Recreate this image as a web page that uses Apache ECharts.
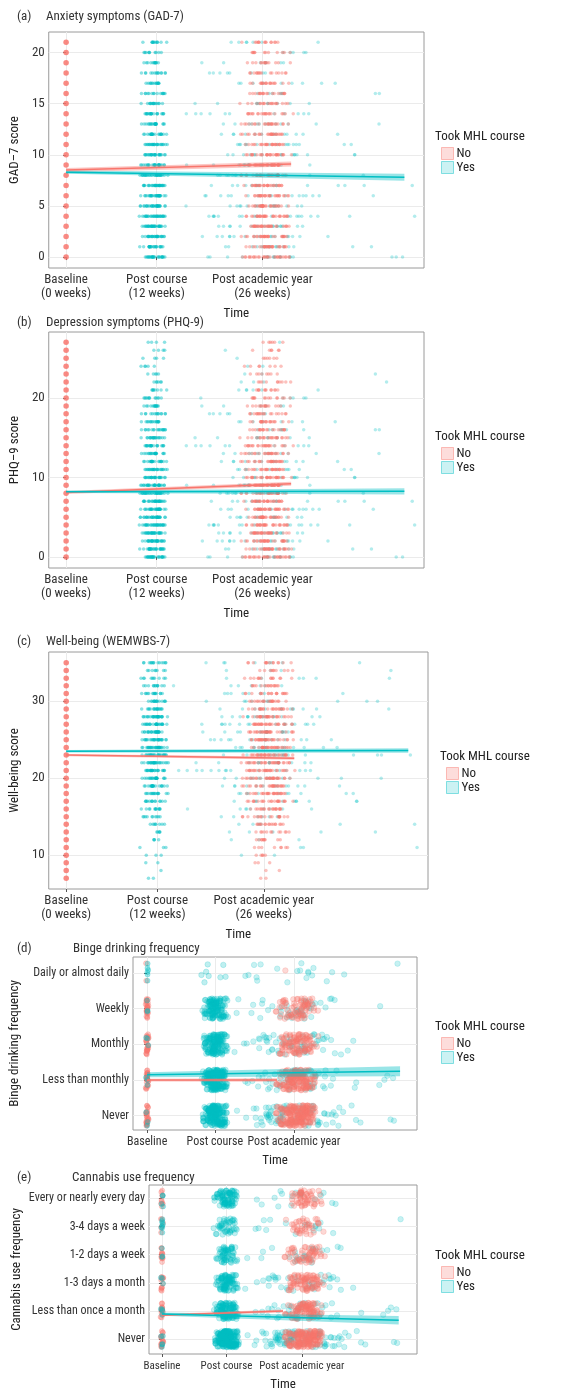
<!DOCTYPE html>
<html><head><meta charset="utf-8">
<script src="https://cdn.jsdelivr.net/npm/echarts@6/dist/echarts.min.js"></script>
<style>html,body{margin:0;padding:0;background:#fff}#c{width:582px;height:1392px}</style>
</head><body><div id="c"></div>
<script>
// ---- data ----
const timeTicks = [0, 12, 26];
const timeLabelsLong = ['Baseline\n(0 weeks)', 'Post course\n(12 weeks)', 'Post academic year\n(26 weeks)'];
const timeLabelsShort = ['Baseline', 'Post course', 'Post academic year'];
const bingeCats = ['Never', 'Less than monthly', 'Monthly', 'Weekly', 'Daily or almost daily'];
const cannabisCats = ['Never', 'Less than once a month', '1-3 days a month', '1-2 days a week', '3-4 days a week', 'Every or nearly every day'];

// jitter offsets (hand-typed, in [-1,1])
const JX = [-0.92,0.35,-0.18,0.71,-0.55,0.08,0.96,-0.33,0.52,-0.77,0.21,-0.04,0.63,-0.88,0.44,-0.26,0.83,-0.61,0.13,0.39,-0.45,0.9,-0.12,0.58,-0.7,0.27,-0.96,0.02,0.75,-0.38,0.49,-0.84,0.17,-0.22,0.67,-0.5,0.31,0.86,-0.67,0.05,-0.29];
const JY = [0.41,-0.83,0.12,0.67,-0.35,0.91,-0.58,0.24,-0.09,0.76,-0.71,0.33,-0.46,0.55,-0.18,0.88,-0.94,0.02,0.62,-0.27,0.47,-0.64,0.19,-0.52,0.81,-0.13,0.36,-0.77,0.69,-0.4,0.08,0.95,-0.22,0.5,-0.87,0.28,-0.6];

// GAD-7 levels 0..21 : counts per level
const gadLevels = [0,1,2,3,4,5,6,7,8,9,10,11,12,13,14,15,16,17,18,19,20,21];
const gadPostCourseYes = [25,22,28,30,30,30,28,30,28,25,25,25,22,22,20,16,15,14,14,12,10,12];
const gadPostYearNo    = [30,28,30,32,30,30,28,28,30,28,28,26,25,24,22,20,20,18,16,14,12,14];
const gadPostYearYes   = [14,14,14,14,14,14,14,12,12,12,12,12,10,10,8,8,6,6,6,5,4,5];
const gadScatterYes    = [4,3,4,4,5,4,3,4,4,3,4,4,3,3,3,2,2,3,2,2,1,2];
const gadLineNo  = [[0,8.5],[29.8,9.1]];
const gadLineYes = [[0,8.3],[44.8,7.8]];
const gadBandNo  = [0.2,0.25];
const gadBandYes = [0.15,0.35];

// PHQ-9 levels 0..27
const phqLevels = [0,1,2,3,4,5,6,7,8,9,10,11,12,13,14,15,16,17,18,19,20,21,22,23,24,25,26,27];
const phqPostCourseYes = [28,28,30,30,30,30,28,28,28,28,25,25,22,22,20,20,18,16,14,14,12,8,6,5,5,4,4,4];
const phqPostYearNo    = [30,30,30,30,30,30,30,28,28,28,28,26,26,24,24,22,20,20,18,16,14,12,10,8,7,6,6,6];
const phqPostYearYes   = [14,14,14,14,12,12,12,12,12,12,10,10,10,10,8,8,8,6,6,5,4,4,3,2,2,1,1,1];
const phqScatterYes    = [3,3,4,4,4,3,4,4,3,3,3,3,3,3,3,2,2,2,2,1,2,2,1,1,0,0,0,0];
const phqLineNo  = [[0,8.1],[29.8,9.2]];
const phqLineYes = [[0,8.2],[44.8,8.25]];
const phqBandNo  = [0.2,0.25];
const phqBandYes = [0.15,0.4];

// WEMWBS levels 7..35
const wemLevels = [7,8,9,10,11,12,13,14,15,16,17,18,19,20,21,22,23,24,25,26,27,28,29,30,31,32,33,34,35];
const wemPostCourseYes = [2,1,2,3,3,4,5,8,10,12,14,16,20,22,24,26,26,28,26,26,26,28,18,16,14,12,10,8,14];
const wemPostYearNo    = [2,2,3,5,8,10,12,16,18,20,22,26,26,28,28,30,30,30,30,30,28,28,24,20,18,16,14,10,14];
const wemPostYearYes   = [0,0,0,1,2,2,3,4,5,6,7,8,10,10,12,12,12,12,12,12,12,12,10,8,6,5,4,3,6];
const wemScatterYes    = [0,0,0,1,1,1,2,2,2,3,3,3,3,4,4,4,4,4,4,4,4,4,3,3,2,2,2,1,2];
const wemLineNo  = [[0,23.0],[30,22.6]];
const wemLineYes = [[0,23.5],[45,23.6]];
const wemBandNo  = [0.15,0.2];
const wemBandYes = [0.15,0.3];

// Binge drinking levels 1..5
const bingeLevels = [1,2,3,4,5];
const bingeBaseNo       = [25,25,25,25,2];
const bingeBaseYes      = [3,3,3,3,6];
const bingePostCourseYes= [200,200,160,140,8];
const bingePostYearNo   = [200,170,110,80,1];
const bingePostYearYes  = [70,55,50,35,16];
const bingeScatterYes   = [18,10,9,7,4];
const bingeLineNo  = [[0,2.0],[23,2.0]];
const bingeLineYes = [[0,2.15],[44.8,2.25]];
const bingeBandNo  = [0.04,0.05];
const bingeBandYes = [0.07,0.14];

// Cannabis levels 1..6
const canLevels = [1,2,3,4,5,6];
const canBaseNo       = [18,15,12,12,6,10];
const canBaseYes      = [5,4,3,3,8,4];
const canPostCourseYes= [260,120,100,60,45,90];
const canPostYearNo   = [170,100,85,60,40,55];
const canPostYearYes  = [90,35,30,20,14,14];
const canScatterYes   = [18,7,7,4,2,3];
const canLineNo  = [[0,1.85],[22.5,2.0]];
const canLineYes = [[0,1.89],[44,1.67]];
const canBandNo  = [0.04,0.05];
const canBandYes = [0.06,0.15];

// ---- building ----
const RED = '#F8766D', CYAN = '#00BFC4';
const FONT = '"Liberation Sans Narrow","Roboto Condensed",Roboto,sans-serif';

function jitter(levels, counts, center, spread, ySpread, seed) {
  const out = [];
  levels.forEach((L, li) => {
    for (let k = 0; k < counts[li]; k++) {
      const jx = 0.6 * JX[(k * 7 + li * 3 + seed) % JX.length] + 0.4 * JY[(k * 11 + li * 17 + seed) % JY.length];
      const x = center + spread * jx / 0.8;
      const y = L + ySpread * JY[(k * 5 + li + seed) % JY.length];
      out.push([x, y]);
    }
  });
  return out;
}
function ones(levels){ return levels.map(()=>1); }

const series = [];
function scatter(g, name, color, data, size, op, border) {
  series.push({type:'scatter', name, xAxisIndex:g, yAxisIndex:g, data, symbolSize:size, silent:true, large:false,
    itemStyle:{color, opacity:op, borderColor: border? color : 'transparent', borderWidth: border?0.8:0}, z:2});
}
function fit(g, name, color, line, band) {
  const bd = line.map((p,i)=>[p[0], p[1]-band[i], p[1]+band[i]]);
  series.push({type:'custom', name, xAxisIndex:g, yAxisIndex:g, data:bd, silent:true, z:4,
    encode:{x:0, y:[1,2]},
    renderItem:(params, api)=>{
      if (params.dataIndex !== 0) return null;
      const top = bd.map(d=>api.coord([d[0], d[2]]));
      const bot = bd.map(d=>api.coord([d[0], d[1]])).reverse();
      return {type:'polygon', shape:{points:top.concat(bot)}, style:{fill:color, opacity:0.4}};
    }});
  series.push({type:'line', name, xAxisIndex:g, yAxisIndex:g, data:line, symbol:'none', lineStyle:{color, width:1.5}, silent:true, z:5});
}
function numericPanel(g, levels, pc, pyNo, pyYes, sc, lineNo, lineYes, bandNo, bandYes) {
  scatter(g,'Yes',CYAN, jitter(levels, pc, 11.6, 1.6, 0, 0), 3.5, 0.45);
  scatter(g,'Yes',CYAN, jitter(levels, pyYes, 25.5, 7, 0, 4), 3.5, 0.3);
  scatter(g,'Yes',CYAN, jitter(levels, sc, 30, 16, 0, 9), 3.5, 0.3);
  scatter(g,'No',RED, jitter(levels, pyNo, 26.5, 3, 0, 2), 3.5, 0.45);
  scatter(g,'No',RED, jitter(levels, ones(levels), 0, 0, 0, 0), 5.5, 0.85);
  fit(g,'No',RED,lineNo,bandNo);
  fit(g,'Yes',CYAN,lineYes,bandYes);
}
function catPanel(g, levels, bNo, bYes, pc, pyNo, pyYes, sc, lineNo, lineYes, bandNo, bandYes) {
  scatter(g,'Yes',CYAN, jitter(levels, pc, 12, 2.0, 0.3, 0), 5.5, 0.25, true);
  scatter(g,'Yes',CYAN, jitter(levels, pyYes, 25, 8, 0.3, 5), 5.5, 0.22, true);
  scatter(g,'Yes',CYAN, jitter(levels, sc, 31, 15, 0.3, 11), 5.5, 0.22, true);
  scatter(g,'No',RED, jitter(levels, pyNo, 26.5, 3.2, 0.3, 3), 5.5, 0.28, true);
  scatter(g,'No',RED, jitter(levels, bNo, 0, 0.25, 0.3, 1), 5, 0.35, true);
  scatter(g,'Yes',CYAN, jitter(levels, bYes, 0, 0.25, 0.3, 6), 5, 0.35, true);
  fit(g,'No',RED,lineNo,bandNo);
  fit(g,'Yes',CYAN,lineYes,bandYes);
}
numericPanel(0,gadLevels,gadPostCourseYes,gadPostYearNo,gadPostYearYes,gadScatterYes,gadLineNo,gadLineYes,gadBandNo,gadBandYes);
numericPanel(1,phqLevels,phqPostCourseYes,phqPostYearNo,phqPostYearYes,phqScatterYes,phqLineNo,phqLineYes,phqBandNo,phqBandYes);
numericPanel(2,wemLevels,wemPostCourseYes,wemPostYearNo,wemPostYearYes,wemScatterYes,wemLineNo,wemLineYes,wemBandNo,wemBandYes);
catPanel(3,bingeLevels,bingeBaseNo,bingeBaseYes,bingePostCourseYes,bingePostYearNo,bingePostYearYes,bingeScatterYes,bingeLineNo,bingeLineYes,bingeBandNo,bingeBandYes);
catPanel(4,canLevels,canBaseNo,canBaseYes,canPostCourseYes,canPostYearNo,canPostYearYes,canScatterYes,canLineNo,canLineYes,canBandNo,canBandYes);

const grids = [
  {left:34, top:32, width:390, height:236},
  {left:34, top:332, width:390, height:236},
  {left:34, top:652, width:394, height:237},
  {left:133, top:957, width:284, height:173},
  {left:149, top:1185, width:268, height:175}
].map(g=>Object.assign(g,{show:true, borderColor:'#9a9a9a', borderWidth:1, backgroundColor:'#fff'}));

const xr = [[-2.3,47.4],[-2.3,47.4],[-2.3,47.6],[-2.5,47.8],[-2.4,47.4]];
const xFont = [13,13,13,12,11];
const xAxis = xr.map((r,i)=>({
  type:'value', gridIndex:i, min:r[0], max:r[1],
  name:'Time', nameLocation:'middle', nameGap: i<3?39:24,
  nameTextStyle:{fontFamily:FONT, fontSize:13, color:'#222'},
  axisLine:{show:false},
  axisTick:{show:true, customValues:timeTicks, length:3, lineStyle:{color:'#555'}},
  axisLabel:{customValues:timeTicks, fontFamily:FONT, fontSize:xFont[i], color:'#333', lineHeight:14, margin:5, hideOverlap:false,
    formatter:v=>{const k=timeTicks.indexOf(v); return k<0?'':(i<3?timeLabelsLong[k]:timeLabelsShort[k]);}},
  splitLine:{show:true, lineStyle:{color:'#ebebeb'}}
}));
function numY(i,min,max,ticks,name){
  return {type:'value', gridIndex:i, min, max, name, nameLocation:'middle', nameGap:22,
    nameTextStyle:{fontFamily:FONT, fontSize:13, color:'#222'},
    axisLine:{show:false}, axisTick:{show:true, customValues:ticks, length:3, lineStyle:{color:'#555'}},
    axisLabel:{customValues:ticks, fontFamily:FONT, fontSize:13, color:'#333', margin:4},
    splitLine:{show:true, lineStyle:{color:'#ebebeb'}}};
}
function catY(i,min,max,cats,name){
  const ticks = cats.map((_,k)=>k+1);
  const y = numY(i,min,max,ticks,name);
  y.axisLabel.formatter = v=>cats[v-1]||'';
  y.axisLabel.fontSize = 12;
  y.nameGap = i===3?112:126;
  return y;
}
const yAxis = [
  numY(0,-1.07,22.0,[0,5,10,15,20],'GAD–7 score'),
  numY(1,-1.4,28.3,[0,10,20],'PHQ–9 score'),
  numY(2,5.6,36.4,[10,20,30],'Well-being score'),
  catY(3,0.6,5.45,bingeCats,'Binge drinking frequency'),
  catY(4,0.47,6.48,cannabisCats,'Cannabis use frequency')
];

const titles = [
  ['(a)','Anxiety symptoms (GAD-7)',12,5,41],
  ['(b)','Depression symptoms (PHQ-9)',12,311,41],
  ['(c)','Well-being (WEMWBS-7)',12,630,41],
  ['(d)','Binge drinking frequency',12,937,68],
  ['(e)','Cannabis use frequency',12,1166,67]
];
const title = [];
titles.forEach(t=>{
  title.push({text:t[0], left:t[2], top:t[3], textStyle:{fontFamily:FONT, fontSize:13, fontWeight:'normal', color:'#333'}});
  title.push({text:t[1], left:t[4], top:t[3], textStyle:{fontFamily:FONT, fontSize:13, fontWeight:'normal', color:'#333'}});
});
const legTop = [125,425,745,1015,1244];
const legLeft = [430,430,435,430,430];
legTop.forEach((t,i)=>title.push({text:'Took MHL course', left:legLeft[i], top:t, textStyle:{fontFamily:FONT, fontSize:13, fontWeight:'normal', color:'#222'}}));
const legend = legTop.map((t,i)=>({
  data:[{name:'No', itemStyle:{color:'rgba(248,118,109,0.55)', borderColor:RED, borderWidth:1}},
        {name:'Yes', itemStyle:{color:'rgba(0,191,196,0.45)', borderColor:CYAN, borderWidth:1}}],
  orient:'vertical', left:legLeft[i]+6, top:t+17, itemWidth:12, itemHeight:12, itemGap:1, icon:'rect',
  selectedMode:false, textStyle:{fontFamily:FONT, fontSize:13, color:'#222', padding:[0,0,0,-2]}
}));

const chart = echarts.init(document.getElementById('c'), null, {renderer:'canvas'});
chart.setOption({animation:false, backgroundColor:'#fff', title, legend, grid:grids, xAxis, yAxis, series});
</script></body></html>
